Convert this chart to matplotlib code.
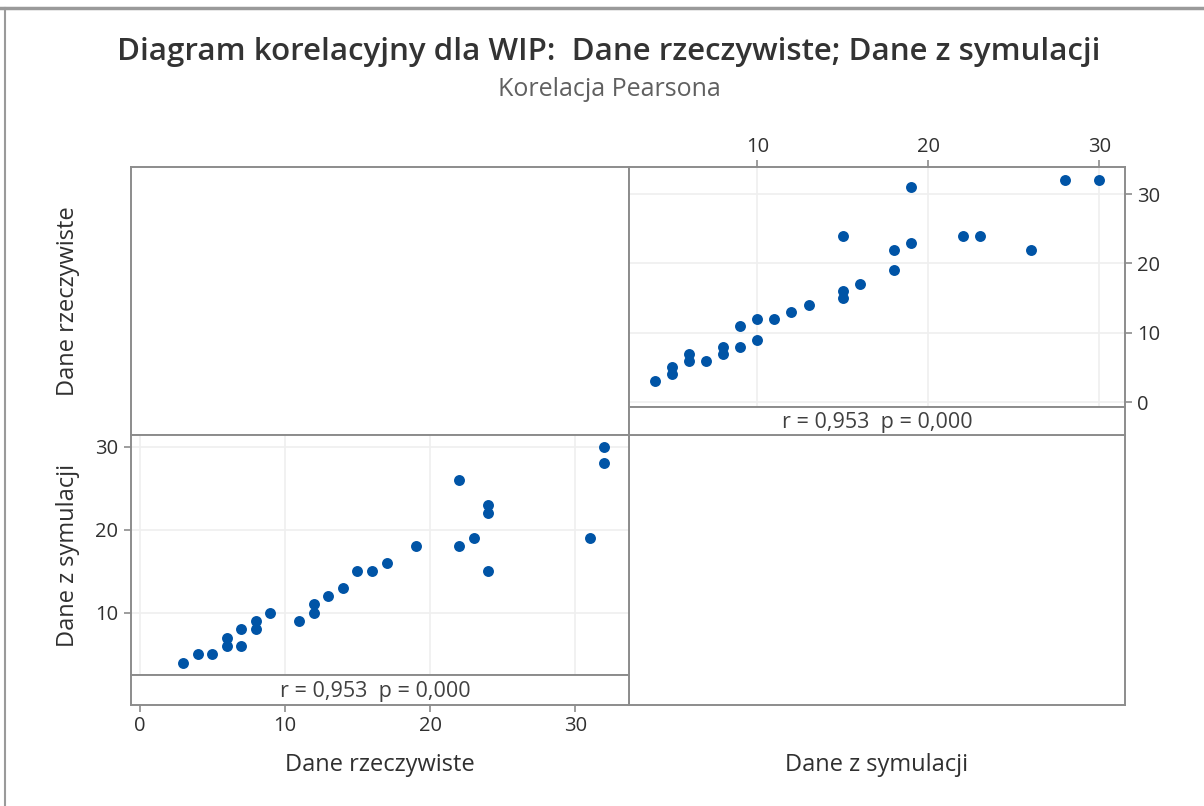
import matplotlib
matplotlib.use("Agg")
import matplotlib.pyplot as plt
from matplotlib.lines import Line2D

plt.rcParams['font.family'] = ['Open Sans', 'DejaVu Sans']

# Data (pairs)
dane_rzeczywiste = [3, 4, 5, 6, 6, 7, 7, 8, 8, 9, 11, 12, 12, 13, 14, 15, 16, 17,
                    19, 22, 22, 23, 24, 24, 24, 31, 32, 32]
dane_z_symulacji = [4, 5, 5, 7, 6, 8, 6, 9, 8, 10, 9, 10, 11, 12, 13, 15, 15, 16,
                    18, 26, 18, 19, 23, 22, 15, 19, 30, 28]
ticks_ll_x = [0, 10, 20, 30]
ticks_ll_y = [10, 20, 30]
ticks_ur_x = [10, 20, 30]
ticks_ur_y = [0, 10, 20, 30]
r_text = "r = 0,953  p = 0,000"
title = "Diagram korelacyjny dla WIP:  Dane rzeczywiste; Dane z symulacji"
subtitle = "Korelacja Pearsona"
var_names = ["Dane rzeczywiste", "Dane z symulacji"]

W, H = 1204, 806
fig = plt.figure(figsize=(W / 100, H / 100), dpi=100)

def ax_px(x0, x1, y0, y1, **kw):
    return fig.add_axes([x0 / W, 1 - y1 / H, (x1 - x0) / W, (y1 - y0) / H], **kw)

FRAME = "#8c8c8c"
GRID = "#efefef"
BLUE = "#0054a6"
TXT = "#303030"
TICK_FS = 14.5
LAB_FS = 17
R_FS = 15.5

def style_box(ax):
    for s in ax.spines.values():
        s.set_color(FRAME)
        s.set_linewidth(1.4)

# Figure border lines (top & left)
fig.add_artist(Line2D([0, 1], [1 - 8 / H, 1 - 8 / H], transform=fig.transFigure, color="#9a9a9a", lw=2.5))
fig.add_artist(Line2D([5 / W, 5 / W], [0, 1 - 8 / H], transform=fig.transFigure, color="#9a9a9a", lw=1.5))

# Empty diagonal panels
ax_ul = ax_px(131, 629, 167, 435)
ax_lr = ax_px(629, 1125, 435, 705)
for a in (ax_ul, ax_lr):
    a.set_xticks([]); a.set_yticks([])
    style_box(a)

# Lower-left scatter: x = real, y = sim
ll_xlim = (-0.6, 33.7)
ax_ll = ax_px(131, 629, 435, 675)
ax_ll.scatter(dane_rzeczywiste, dane_z_symulacji, s=62, color=BLUE, zorder=3, linewidths=0)
ax_ll.set_xlim(*ll_xlim)
ax_ll.set_ylim(2.5, 31.4)
ax_ll.set_xticks(ticks_ll_x)
ax_ll.set_yticks(ticks_ll_y)
ax_ll.tick_params(axis='x', length=0, labelbottom=False)
ax_ll.tick_params(axis='y', length=5, width=1.2, color=FRAME, labelsize=TICK_FS, labelcolor=TXT, pad=4)
ax_ll.grid(True, color=GRID, lw=1.2, zorder=0)
ax_ll.set_axisbelow(True)
style_box(ax_ll)

ax_llr = ax_px(131, 629, 675, 705)
ax_llr.set_xlim(*ll_xlim)
ax_llr.set_yticks([])
ax_llr.set_xticks(ticks_ll_x)
ax_llr.tick_params(axis='x', length=5, width=1.2, color=FRAME, labelsize=TICK_FS, labelcolor=TXT, pad=3)
ax_llr.text(0.49, 0.45, r_text, transform=ax_llr.transAxes, ha='center', va='center', fontsize=R_FS, color="#404040")
style_box(ax_llr)

# Upper-right scatter: x = sim, y = real
ur_xlim = (2.5, 31.5)
ur_ylim = (-0.7, 33.9)
ax_ur = ax_px(629, 1125, 167, 407)
ax_ur.scatter(dane_z_symulacji, dane_rzeczywiste, s=62, color=BLUE, zorder=3, linewidths=0)
ax_ur.set_xlim(*ur_xlim)
ax_ur.set_ylim(*ur_ylim)
ax_ur.set_xticks(ticks_ur_x)
ax_ur.set_yticks(ticks_ur_y)
ax_ur.xaxis.tick_top()
ax_ur.yaxis.tick_right()
ax_ur.tick_params(axis='x', length=5, width=1.2, color=FRAME, labelsize=TICK_FS, labelcolor=TXT, pad=2)
ax_ur.tick_params(axis='y', length=5, width=1.2, color=FRAME, labelsize=TICK_FS, labelcolor=TXT, pad=4)
ax_ur.grid(True, color=GRID, lw=1.2, zorder=0)
ax_ur.set_axisbelow(True)
style_box(ax_ur)

ax_urr = ax_px(629, 1125, 407, 435)
ax_urr.set_xticks([])
ax_urr.set_yticks([])
ax_urr.set_xlim(*ur_xlim)
ax_urr.text(0.5, 0.45, r_text, transform=ax_urr.transAxes, ha='center', va='center', fontsize=R_FS, color="#404040")
style_box(ax_urr)

# Variable labels
fig.text(68 / W, 1 - 301 / H, var_names[0], rotation=90, ha='center', va='center', fontsize=LAB_FS, color=TXT)
fig.text(68 / W, 1 - 555 / H, var_names[1], rotation=90, ha='center', va='center', fontsize=LAB_FS, color=TXT)
fig.text(380 / W, 1 - 765 / H, var_names[0], ha='center', va='center', fontsize=LAB_FS, color=TXT)
fig.text(877 / W, 1 - 765 / H, var_names[1], ha='center', va='center', fontsize=LAB_FS, color=TXT)

# Titles
fig.text(609 / W, 1 - 52 / H, title, ha='center', va='center', fontsize=22.5, fontweight='semibold', color="#333333")
fig.text(609 / W, 1 - 90 / H, subtitle, ha='center', va='center', fontsize=18, color="#606060")

fig.savefig("out.png", dpi=100)
